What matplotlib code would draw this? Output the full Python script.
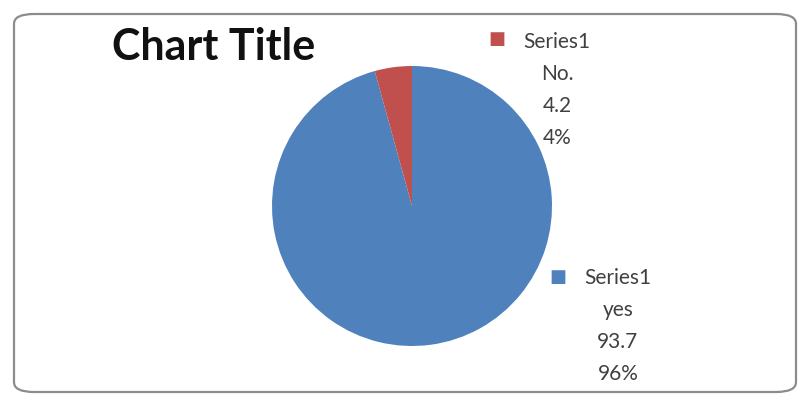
import matplotlib

matplotlib.use("Agg")
import matplotlib.pyplot as plt
from matplotlib.patches import FancyBboxPatch

categories = ["yes", "No."]
values = [93.7, 4.2]
percents = ["96%", "4%"]
series_name = "Series1"
colors = ["#4F81BD", "#C0504D"]

W, H = 800, 394
fig = plt.figure(figsize=(W / 100, H / 100), dpi=100)
plt.rcParams["font.family"] = ["Lato", "DejaVu Sans"]


def fx(px):
    return px / W


def fy(py):
    return 1 - py / H


# rounded chart border
fig.patches.append(
    FancyBboxPatch(
        (fx(14), fy(392)), fx(782), 378 / H,
        boxstyle="round,pad=0,rounding_size=0.025",
        transform=fig.transFigure, facecolor="none",
        edgecolor="#8c8c8c", linewidth=1.6, zorder=-1,
    )
)

cx, cy, r = 412, 206, 140
ax = fig.add_axes([fx(cx - r), fy(cy + r), 2 * r / W, 2 * r / H])
ax.pie(values, colors=colors, startangle=90, counterclock=False,
       radius=1, wedgeprops={"linewidth": 0})
ax.set_xlim(-1, 1)
ax.set_ylim(-1, 1)
ax.set_aspect("auto")
ax.axis("off")

fig.text(fx(112), fy(47), "Chart Title", fontsize=31, fontweight="bold",
         ha="left", va="center", color="#111111")

# data labels with legend keys
label_pos = {"yes": (618, 278), "No.": (557, 42)}
key_pos = {"yes": (558, 277), "No.": (497, 39)}
for cat, val, pct, col in zip(categories, values, percents, colors):
    lx, ly = label_pos[cat]
    lines = [series_name, cat, f"{val}", pct]
    for i, s in enumerate(lines):
        fig.text(fx(lx), fy(ly + i * 32), s, fontsize=15, ha="center",
                 va="center", color="#404040")
    kx, ky = key_pos[cat]
    fig.text(fx(kx), fy(ky), "\u25a0", fontsize=13, ha="center",
             va="center", color=col, family="DejaVu Sans")

fig.savefig("out.png", dpi=100)
